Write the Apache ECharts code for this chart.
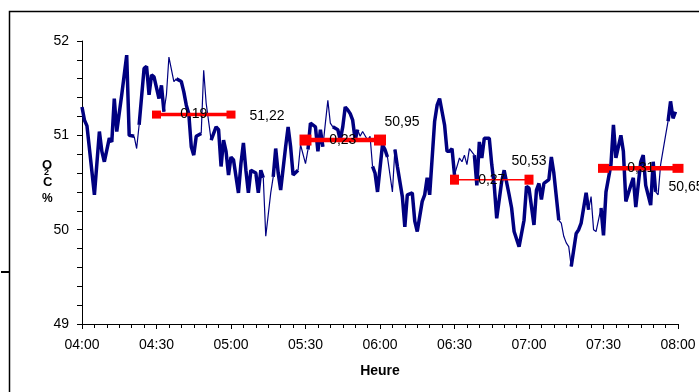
<!DOCTYPE html>
<html>
<head>
<meta charset="utf-8">
<script src="https://cdn.jsdelivr.net/npm/echarts/dist/echarts.min.js"></script>
<style>
  html, body { margin: 0; padding: 0; background: #fff; }
  #main { width: 699px; height: 392px; }
</style>
</head>
<body>
<div id="main"></div>
<script>
// minutes after 04:00
const minutes = [
  0, 1, 2, 5, 7, 8, 9, 11, 12, 13,
  14, 16, 18, 19, 21, 22, 23, 25, 26, 27,
  28, 29, 31, 32, 33, 34, 35, 37, 38, 40,
  41, 42, 43, 44, 45, 46, 48, 49, 50, 52,
  54, 55, 56, 57, 58, 59, 60, 61, 63, 64,
  65, 66, 67, 68, 70, 71, 72, 73, 74, 76,
  77, 78, 79, 80, 82, 83, 84, 85, 87, 88,
  90, 91, 92, 94, 95, 96, 97, 98, 99, 100,
  101, 103, 104, 105, 106, 107, 108, 109, 110, 111,
  112, 113, 115, 116, 117, 118, 119, 121, 122, 123,
  125, 126, 127, 129, 130, 131, 133, 134, 135, 137,
  138, 139, 140, 142, 143, 144, 146, 147, 148, 149,
  150, 152, 153, 154, 155, 156, 158, 159, 160, 161,
  162, 164, 165, 166, 167, 169, 170, 172, 173, 174,
  176, 178, 179, 180, 182, 183, 184, 185, 186, 188,
  189, 190, 192, 193, 194, 195, 196, 197, 199, 200,
  201, 203, 204, 205, 206, 207, 209, 210, 211, 213,
  214, 215, 217, 218, 219, 221, 222, 223, 225, 226,
  227, 229, 230, 231, 232, 233, 235, 236, 237, 238,
  239
];
const o2c = [
  51.30, 51.16, 51.10, 50.37, 51.04, 50.83, 50.72, 50.97, 50.93, 51.39,
  51.04, 51.43, 51.85, 51.00, 50.99, 50.86, 51.11, 51.71, 51.73, 51.43,
  51.64, 51.62, 51.39, 51.53, 51.25, 51.43, 51.83, 51.57, 51.60, 51.57,
  51.46, 51.32, 51.23, 50.88, 50.79, 50.99, 51.02, 51.69, 51.34, 50.95,
  51.09, 51.06, 50.67, 50.95, 50.83, 50.58, 50.77, 50.74, 50.39, 50.70,
  50.92, 50.63, 50.39, 50.63, 50.60, 50.39, 50.63, 50.55, 49.93, 50.39,
  50.56, 50.86, 50.60, 50.42, 50.88, 51.09, 50.88, 50.58, 50.63, 50.90,
  50.70, 50.85, 51.13, 51.09, 50.83, 51.06, 50.88, 51.13, 51.37, 51.13,
  51.09, 51.06, 50.95, 51.09, 51.30, 51.27, 51.23, 51.16, 50.95, 51.06,
  50.99, 51.04, 50.95, 50.99, 50.67, 50.60, 50.40, 50.90, 50.85, 50.77,
  50.40, 50.85, 50.67, 50.35, 50.03, 50.37, 50.39, 50.09, 49.98, 50.30,
  50.37, 50.55, 50.37, 51.15, 51.32, 51.39, 51.11, 50.83, 50.83, 50.86,
  50.58, 50.76, 50.72, 50.79, 50.69, 50.86, 50.79, 50.47, 50.93, 50.76,
  50.97, 50.97, 50.69, 50.47, 50.12, 50.51, 50.63, 50.37, 50.23, 49.98,
  49.82, 50.10, 50.46, 50.44, 50.05, 50.42, 50.49, 50.32, 50.49, 50.53,
  50.77, 50.60, 50.10, 50.07, 49.93, 49.86, 49.82, 49.61, 49.96, 50.00,
  50.07, 50.39, 50.21, 50.35, 50.00, 49.98, 50.23, 49.94, 50.40, 50.69,
  51.11, 50.76, 51.00, 50.83, 50.30, 50.47, 50.55, 50.24, 50.72, 50.79,
  50.47, 50.26, 50.72, 50.40, 50.37, 50.69, 51.00, 51.15, 51.36, 51.18,
  51.25
];
const tickLabels = ['04:00', '04:30', '05:00', '05:30', '06:00', '06:30', '07:00', '07:30', '08:00'];
const windows = [[30, 60], [90, 120], [150, 180], [210, 240]];
const means = [51.22, 50.95, 50.53, 50.65];
const sigmas = [0.19, 0.23, 0.27, 0.31];
const yName = ['O', '2', 'C', '%'];

// parts of the trace drawn with a thin pen (minutes)
const thinSpans = [[21, 23], [33, 38], [47, 52], [73, 77], [86, 91], [97, 101], [111, 117], [123, 126], [150, 158], [191, 197], [204, 209], [231, 236]];
const redLook = [
  { width: 3.5, size: [9, 8], pos: 'right', off: [0, 2], dist: 14, sOff: [-4, 2] },
  { width: 4.5, size: [12, 11], pos: 'top', off: [22, 0], dist: 5, sOff: [-2, 0] },
  { width: 1.5, size: [9, 10], pos: 'top', off: [0, 0], dist: 7, sOff: [-4, 0] },
  { width: 4.5, size: [11, 9], pos: 'bottom', off: [8, 0], dist: 7, sOff: [-2, 3] }
];

const fmt = (v) => v.toFixed(2).replace('.', ',');
const isThin = (i) => thinSpans.some(([a, b]) => minutes[i] >= a && minutes[i + 1] <= b);

const thickData = [];
const thinData = [];
for (let i = 0; i < minutes.length; i++) {
  const left = i > 0 ? (isThin(i - 1) ? 'thin' : 'thick') : null;
  const right = i < minutes.length - 1 ? (isThin(i) ? 'thin' : 'thick') : null;
  thickData.push([minutes[i], (left === 'thick' || right === 'thick') ? o2c[i] : '-']);
  thinData.push([minutes[i], (left === 'thin' || right === 'thin') ? o2c[i] : '-']);
}

const font = 'Liberation Sans, Arial, sans-serif';
const series = [
  {
    name: 'thick', type: 'line', data: thickData, symbol: 'none', connectNulls: false,
    lineStyle: { color: '#000080', width: 3.5 }, z: 2, animation: false
  },
  {
    name: 'thin', type: 'line', data: thinData, symbol: 'none', connectNulls: false,
    lineStyle: { color: '#000080', width: 1.2 }, z: 2, animation: false
  }
];

windows.forEach((w, k) => {
  const look = redLook[k];
  series.push({
    type: 'line', symbol: 'rect', symbolSize: look.size, z: 3, animation: false,
    lineStyle: { color: '#ff0000', width: look.width },
    itemStyle: { color: '#ff0000' },
    data: [
      [w[0], means[k]],
      {
        value: [w[1], means[k]],
        label: {
          show: true, position: look.pos, distance: look.dist, offset: look.off,
          formatter: fmt(means[k]), color: '#000', fontSize: 14, fontFamily: font
        }
      }
    ]
  });
  series.push({
    type: 'scatter', symbol: 'circle', symbolSize: 1, zlevel: 1, z: 10, animation: false, silent: true,
    itemStyle: { color: '#ff0000', opacity: 1 },
    data: [[(w[0] + w[1]) / 2, means[k]]],
    label: {
      show: true, position: 'inside', offset: look.sOff, opacity: 1,
      textBorderWidth: 0, textBorderColor: 'transparent',
      formatter: fmt(sigmas[k]), color: '#000000', fontSize: 14, fontFamily: font
    },
    labelLayout: { hideOverlap: false }
  });
});

const chart = echarts.init(document.getElementById('main'));
chart.setOption({
  backgroundColor: '#fff',
  animation: false,
  grid: { left: 82, right: 21, top: 41, bottom: 68 },
  xAxis: {
    type: 'value', min: 0, max: 240, interval: 30,
    name: 'Heure', nameLocation: 'middle', nameGap: 40,
    nameTextStyle: { color: '#000', fontSize: 14, fontWeight: 'bold', fontFamily: font },
    axisLine: { lineStyle: { color: '#000', width: 1 } },
    axisTick: { length: 5, lineStyle: { color: '#000' } },
    minorTick: { show: true, splitNumber: 6, length: 4, lineStyle: { color: '#000' } },
    splitLine: { show: false },
    axisLabel: {
      color: '#000', fontSize: 14, fontFamily: font, margin: 14,
      formatter: (v) => tickLabels[Math.round(v / 30)]
    }
  },
  yAxis: {
    type: 'value', min: 49, max: 52, interval: 1,
    axisLine: { show: true, lineStyle: { color: '#000', width: 1 } },
    axisTick: { show: true, length: 5, lineStyle: { color: '#000' } },
    minorTick: { show: true, splitNumber: 5, length: 5, lineStyle: { color: '#000' } },
    splitLine: { show: false },
    axisLabel: { color: '#000', fontSize: 14, fontFamily: font, margin: 13 }
  },
  graphic: [
    {
      type: 'rect', silent: true,
      shape: { x: 9.5, y: 11.5, width: 720, height: 420 },
      style: { fill: 'none', stroke: '#000', lineWidth: 1.5 }
    },
    {
      type: 'line', silent: true,
      shape: { x1: 1, y1: 272, x2: 9, y2: 272 },
      style: { stroke: '#000', lineWidth: 2 }
    },
    { type: 'text', left: 42, top: 159, style: { text: yName[0], fill: '#000', font: 'bold 13px ' + font } },
    { type: 'text', left: 44, top: 168, style: { text: yName[1], fill: '#000', font: 'bold 9px ' + font } },
    { type: 'text', left: 43, top: 176, style: { text: yName[2], fill: '#000', font: 'bold 13px ' + font } },
    { type: 'text', left: 42, top: 193, style: { text: yName[3], fill: '#000', font: 'bold 12px ' + font } }
  ],
  series: series
});
</script>
</body>
</html>
